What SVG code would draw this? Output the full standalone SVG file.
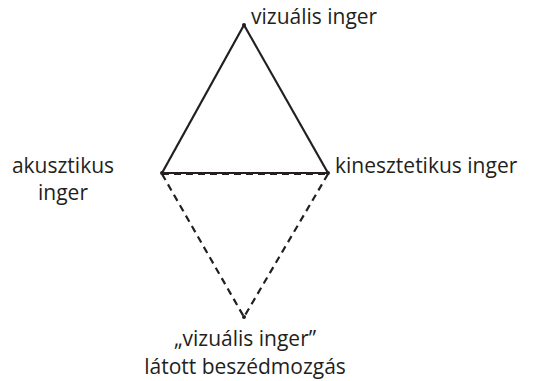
<svg xmlns="http://www.w3.org/2000/svg" width="535" height="381" viewBox="0 0 535 381">
<style>
text{font-family:"Open Sans","Noto Sans",sans-serif;font-size:21px;fill:#231f20}
.s{stroke:#231f20;stroke-width:2.2;fill:none}
.d{stroke:#231f20;stroke-width:2.2;fill:none;stroke-dasharray:7,5}
.v{fill:#231f20}
</style>
<rect width="535" height="381" fill="#fff"/>
<g id="connectors">
<line class="d" x1="162" y1="174" x2="244" y2="317"/>
<line class="d" x1="328" y1="174" x2="244" y2="317"/>
<line class="d" x1="162" y1="174" x2="328" y2="174"/>
<line class="s" x1="162" y1="173" x2="328" y2="173"/>
<line class="s" x1="162" y1="173" x2="244" y2="25"/>
<line class="s" x1="328" y1="173" x2="244" y2="25"/>
</g>
<g id="vizualis"><circle class="v" cx="244" cy="25" r="2"/><text x="251" y="24">vizuális inger</text></g>
<g id="akusztikus"><circle class="v" cx="162" cy="173" r="2"/><text x="63" y="173" text-anchor="middle">akusztikus</text><text x="63" y="200" text-anchor="middle">inger</text></g>
<g id="kinesztetikus"><circle class="v" cx="328" cy="173" r="2"/><text x="335" y="173">kinesztetikus inger</text></g>
<g id="latott"><circle class="v" cx="244" cy="317" r="2"/><text x="245" y="346" text-anchor="middle">„vizuális inger”</text><text x="245" y="374" text-anchor="middle">látott beszédmozgás</text></g>
</svg>
